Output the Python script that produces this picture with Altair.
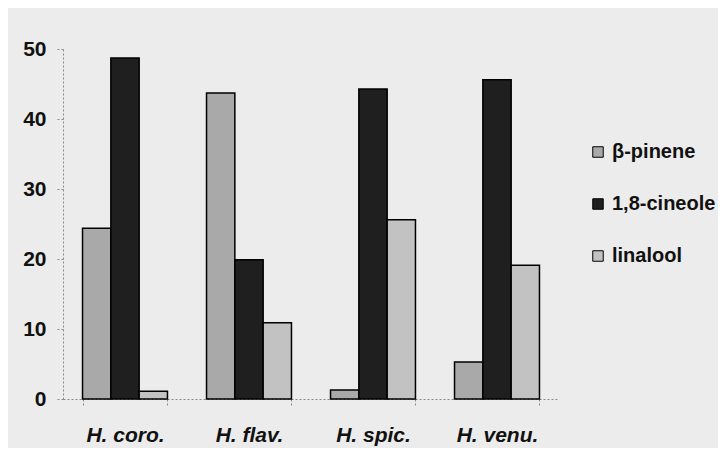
import altair as alt
import pandas as pd

species = ["H. coro.", "H. flav.", "H. spic.", "H. venu."]
compounds = ["β-pinene", "1,8-cineole", "linalool"]
beta_pinene = [24.4, 43.7, 1.3, 5.3]
cineole = [48.7, 19.9, 44.3, 45.6]
linalool = [1.1, 10.9, 25.6, 19.1]
colors = ["#a9a9a9", "#1f1f1f", "#c2c2c2"]

rows = []
for i, s in enumerate(species):
    for c, vals in zip(compounds, [beta_pinene, cineole, linalool]):
        rows.append({"species": s, "compound": c, "value": vals[i]})
df = pd.DataFrame(rows)

FONT = "Liberation Sans Narrow, Liberation Sans, Arial, sans-serif"

chart = alt.Chart(df).mark_bar(stroke="#000000", strokeWidth=1.5).encode(
    x=alt.X("species:N", sort=species, title=None,
            scale=alt.Scale(paddingInner=0.315, paddingOuter=0.1575),
            axis=alt.Axis(labelAngle=0, labelFont=FONT, labelFontSize=21,
                          labelFontWeight="bold", labelFontStyle="italic",
                          labelColor="#111111", labelPadding=19,
                          labelBaseline="top",
                          tickBand="extent", tickSize=6, tickColor="#888888",
                          domainColor="#888888", domainDash=[2, 2],
                          tickDash=[2, 2])),
    xOffset=alt.XOffset("compound:N", sort=compounds),
    y=alt.Y("value:Q", title=None,
            scale=alt.Scale(domain=[0, 50], nice=False),
            axis=alt.Axis(values=[0, 10, 20, 30, 40, 50], grid=False,
                          labelFont=FONT, labelFontSize=21, labelFontWeight="bold",
                          labelColor="#111111", labelPadding=11,
                          tickSize=6, tickColor="#888888", tickDash=[2, 2],
                          domainColor="#888888", domainDash=[2, 2])),
    color=alt.Color("compound:N", sort=compounds,
                    scale=alt.Scale(domain=compounds, range=colors),
                    legend=alt.Legend(title=None, orient="none", legendX=525, legendY=93,
                                      symbolType="square", symbolSize=110,
                                      symbolStrokeColor="#000000", symbolStrokeWidth=1,
                                      labelFont=FONT, labelFontSize=20,
                                      labelFontWeight="bold", labelColor="#111111",
                                      rowPadding=32, labelOffset=4, labelLimit=200)),
).properties(
    width=496, height=350,
    autosize=alt.AutoSizeParams(type="none"),
    padding={"left": 55, "top": 41, "right": 159, "bottom": 49},
    background="#ececec",
).configure_view(stroke=None)

chart.save("out.html", embed_options={"renderer": "svg", "actions": False})
